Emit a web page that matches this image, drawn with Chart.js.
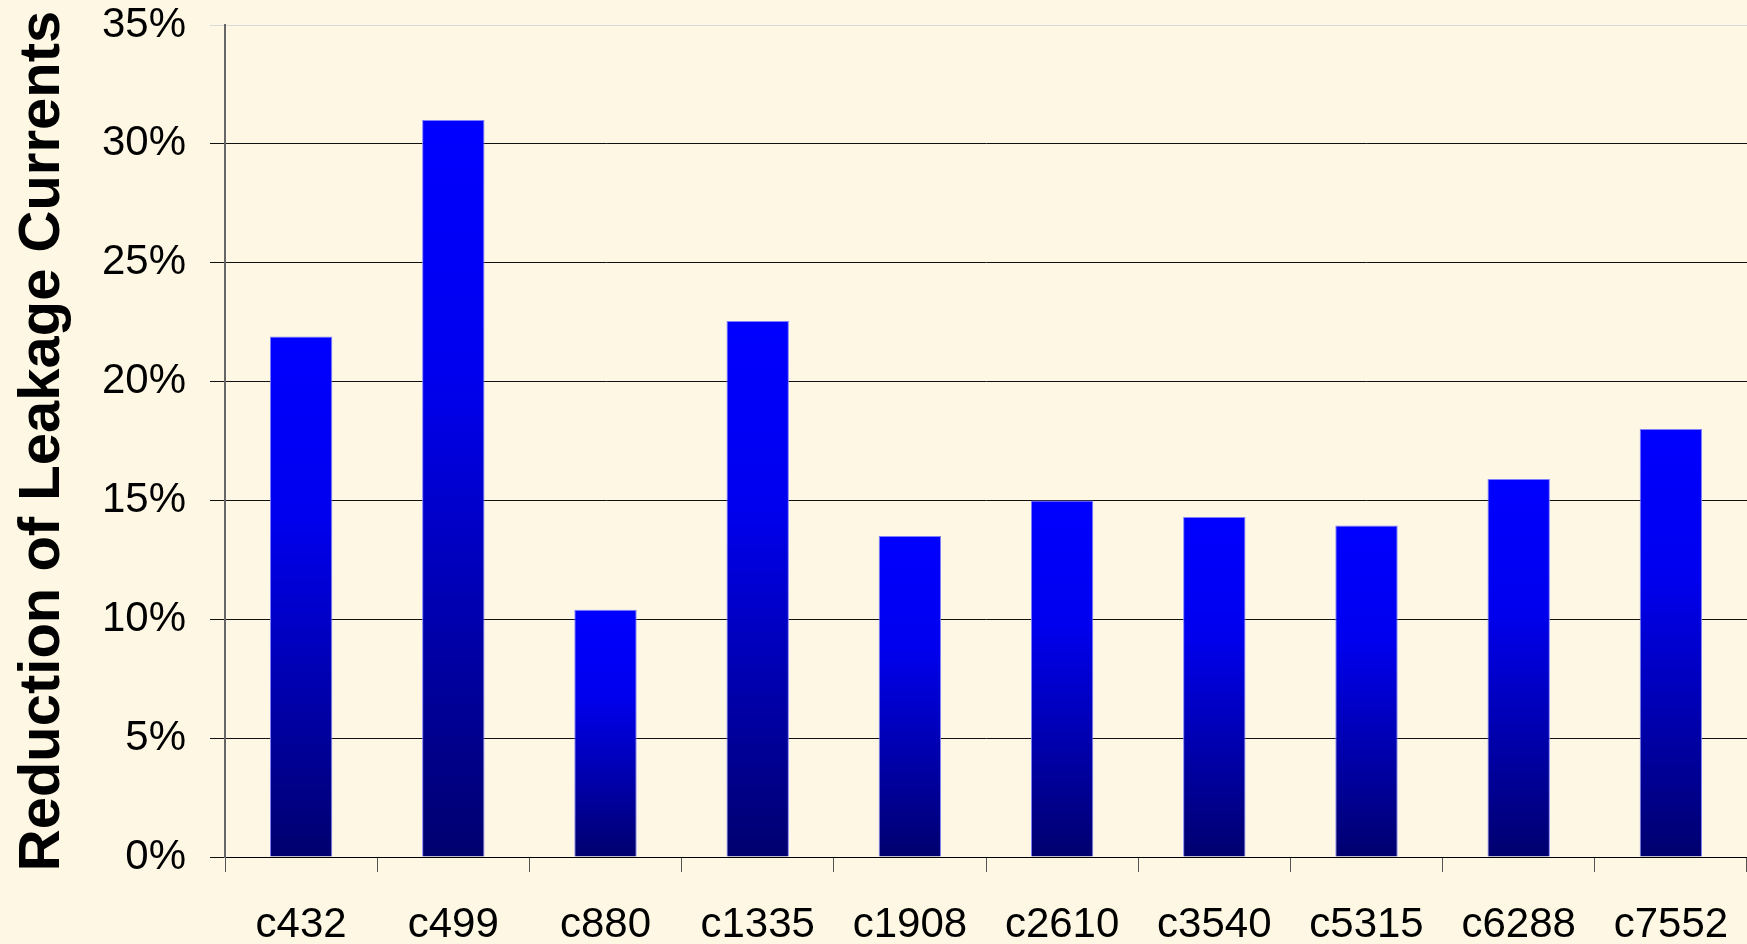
<!DOCTYPE html>
<html>
<head>
<meta charset="utf-8">
<script src="https://cdn.jsdelivr.net/npm/chart.js@4/dist/chart.umd.min.js"></script>
<style>
  html, body { margin: 0; padding: 0; background: #FDF7E4; }
  #wrap { width: 1747px; height: 944px; }
</style>
</head>
<body>
<div id="wrap"><canvas id="chart"></canvas></div>
<script>
const circuits = ['c432', 'c499', 'c880', 'c1335', 'c1908', 'c2610', 'c3540', 'c5315', 'c6288', 'c7552'];
const reduction = [21.9, 31.0, 10.4, 22.55, 13.5, 15.0, 14.3, 13.95, 15.9, 18.0];
const yTicks = [0, 5, 10, 15, 20, 25, 30, 35];

function barGradient(context) {
  const chart = context.chart;
  const y = chart.scales.y;
  if (!chart.chartArea || !y || context.dataIndex === undefined) return '#0000CC';
  const top = y.getPixelForValue(reduction[context.dataIndex]);
  const base = y.getPixelForValue(0);
  if (!isFinite(top) || !isFinite(base)) return '#0000CC';
  const g = chart.ctx.createLinearGradient(0, top, 0, base);
  g.addColorStop(0, '#0000FF');
  g.addColorStop(0.35, '#0000EE');
  g.addColorStop(1, '#00006E');
  return g;
}

const font = 'Liberation Sans, Arial, sans-serif';

const chart = new Chart(document.getElementById('chart'), {
  type: 'bar',
  data: {
    labels: circuits,
    datasets: [{
      data: reduction,
      backgroundColor: barGradient,
      borderColor: '#8080FF',
      borderWidth: 1,
      categoryPercentage: 0.41,
      barPercentage: 1.0
    }]
  },
  options: {
    responsive: true,
    maintainAspectRatio: false,
    animation: false,
    layout: { padding: { top: 25, right: 0, left: 0, bottom: 0 } },
    plugins: {
      legend: { display: false },
      tooltip: { enabled: false }
    },
    scales: {
      x: {
        grid: {
          offset: true,
          drawOnChartArea: false,
          drawTicks: true,
          tickLength: 15,
          color: '#555'
        },
        border: { display: true, color: '#000', width: 1 },
        ticks: {
          color: '#000',
          font: { family: font, size: 42 },
          padding: 28,
          maxRotation: 0
        },
        afterFit: function (scale) {
          scale.height = 87;
          scale.paddingLeft = 0;
          scale.paddingRight = 0;
        }
      },
      y: {
        min: 0,
        max: 35,
        afterBuildTicks: function (scale) {
          scale.ticks = yTicks.map(v => ({ value: v }));
        },
        grid: {
          color: function (ctx) { return ctx.tick && ctx.tick.value === 35 ? '#D8D8D8' : '#111'; },
          lineWidth: 1,
          tickLength: 15
        },
        border: { display: true, color: '#666', width: 2 },
        ticks: {
          color: '#000',
          font: { family: font, size: 42 },
          padding: 24,
          callback: function (v) { return v + '%'; }
        },
        title: {
          display: true,
          text: 'Reduction of Leakage Currents',
          color: '#000',
          font: { family: font, size: 58, weight: 'bold' },
          padding: { top: 8, bottom: 0 }
        },
        afterFit: function (scale) {
          scale.width = 225;
          scale.paddingTop = 0;
          scale.paddingBottom = 0;
        }
      }
    }
  }
});
chart.update();
</script>
</body>
</html>
